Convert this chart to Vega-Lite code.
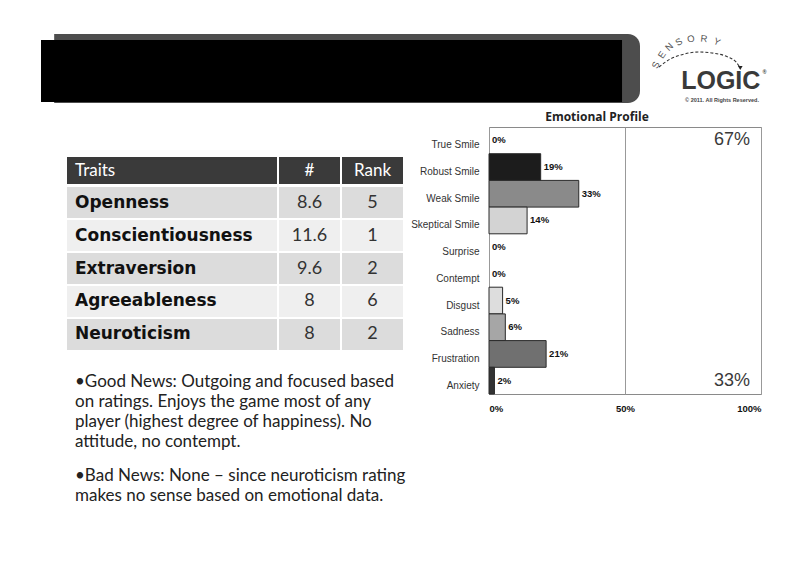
{
  "$schema": "https://vega.github.io/schema/vega-lite/v6.json",
  "padding": {"left": 41, "top": 22, "right": 0, "bottom": 0},
  "background": "white",
  "config": {"view": {"stroke": null}, "font": "Liberation Sans"},
  "datasets": {
    "emotions": [
      {"emotion": "True Smile", "share": 0},
      {"emotion": "Robust Smile", "share": 0.19},
      {"emotion": "Weak Smile", "share": 0.33},
      {"emotion": "Skeptical Smile", "share": 0.14},
      {"emotion": "Surprise", "share": 0},
      {"emotion": "Contempt", "share": 0},
      {"emotion": "Disgust", "share": 0.05},
      {"emotion": "Sadness", "share": 0.06},
      {"emotion": "Frustration", "share": 0.21},
      {"emotion": "Anxiety", "share": 0.02}
    ],
    "totals": [
      {"emotion": "True Smile", "group": "Smiles", "total": 0.67},
      {"emotion": "Anxiety", "group": "Other", "total": 0.33}
    ],
    "traits": [
      {"trait": "Openness", "score": 8.6, "rank": 5},
      {"trait": "Conscientiousness", "score": 11.6, "rank": 1},
      {"trait": "Extraversion", "score": 9.6, "rank": 2},
      {"trait": "Agreeableness", "score": 8, "rank": 6},
      {"trait": "Neuroticism", "score": 8, "rank": 2}
    ],
    "notes": [
      {"para": "good", "text": ["•Good News: Outgoing and focused based", "on ratings. Enjoys the game most of any", "player (highest degree of happiness). No", "attitude, no contempt."]},
      {"para": "bad", "text": ["•Bad News: None – since neuroticism rating", "makes no sense based on emotional data."]}
    ],
    "logo": [
      {"kind": "letter", "t": "S", "x": 3.2, "y": 50},
      {"kind": "letter", "t": "E", "x": 8, "y": 62},
      {"kind": "letter", "t": "N", "x": 13.8, "y": 71.4},
      {"kind": "letter", "t": "S", "x": 21.6, "y": 77.4},
      {"kind": "letter", "t": "O", "x": 31.2, "y": 81},
      {"kind": "letter", "t": "R", "x": 41.6, "y": 81},
      {"kind": "letter", "t": "Y", "x": 52, "y": 77.4}
    ],
    "arc": [
      {"x": 5.6, "y": 47.6},
      {"x": 14.4, "y": 57},
      {"x": 25.6, "y": 63},
      {"x": 37.6, "y": 65.5},
      {"x": 49.6, "y": 64},
      {"x": 60.8, "y": 59.5},
      {"x": 67.2, "y": 53.6},
      {"x": 70.6, "y": 46.5}
    ]
  },
  "vconcat": [
    {
      "hconcat": [
        {
          "vconcat": [
            {"width": 599, "height": 11, "data": {"values": [{}]}, "mark": "text", "encoding": {"text": {"value": ""}}},
            {
              "width": 599, "height": 69,
              "data": {"values": [{}]},
              "layer": [
                {
                  "mark": {"type": "rect", "color": "#4d4d4d", "cornerRadiusTopRight": 12, "cornerRadiusBottomRight": 12},
                  "encoding": {
                    "x": {"datum": 0.022, "type": "quantitative", "scale": {"domain": [0, 1]}, "axis": null},
                    "x2": {"datum": 1},
                    "y": {"datum": 0, "type": "quantitative", "scale": {"domain": [0, 1]}, "axis": null},
                    "y2": {"datum": 1}
                  }
                },
                {
                  "mark": {"type": "rect", "color": "#000000"},
                  "encoding": {
                    "x": {"datum": 0, "type": "quantitative"},
                    "x2": {"datum": 0.97},
                    "y": {"datum": 0.015, "type": "quantitative"},
                    "y2": {"datum": 0.913}
                  }
                }
              ]
            }
          ],
          "spacing": 0
        },
        {
          "width": 125, "height": 84,
          "layer": [
            {
              "data": {"name": "arc"},
              "mark": {"type": "line", "interpolate": "monotone", "strokeDash": [3, 2], "color": "#333", "strokeWidth": 1.1},
              "encoding": {
                "x": {"field": "x", "type": "quantitative", "scale": {"domain": [0, 100]}, "axis": null},
                "y": {"field": "y", "type": "quantitative", "scale": {"domain": [0, 100]}, "axis": null}
              }
            },
            {
              "data": {"name": "arc"},
              "transform": [{"filter": "datum.x > 70"}],
              "mark": {"type": "point", "shape": "triangle-down", "filled": true, "size": 22, "color": "#222", "opacity": 1},
              "encoding": {
                "x": {"field": "x", "type": "quantitative"},
                "y": {"field": "y", "type": "quantitative"}
              }
            },
            {
              "data": {"name": "logo"},
              "mark": {"type": "text", "fontSize": 9.5, "color": "#555", "font": "Liberation Sans"},
              "encoding": {
                "x": {"field": "x", "type": "quantitative"},
                "y": {"field": "y", "type": "quantitative"},
                "angle": {"field": "x", "type": "quantitative", "scale": {"domain": [3, 52], "range": [-65, 25]}, "legend": null},
                "text": {"field": "t"}
              }
            },
            {
              "data": {"values": [{"t": "LOGIC", "x": 55, "y": 21}]},
              "mark": {"type": "text", "fontSize": 25, "fontWeight": "bold", "color": "#3a3a3a", "baseline": "alphabetic", "font": "Liberation Sans"},
              "encoding": {
                "x": {"field": "x", "type": "quantitative"},
                "y": {"field": "y", "type": "quantitative"},
                "text": {"field": "t"}
              }
            },
            {
              "data": {"values": [{"t": "®", "x": 90, "y": 42}, {"t": "© 2011.  All Rights Reserved.", "x": 56, "y": 8}]},
              "mark": {"type": "text", "fontSize": 5.5, "fontWeight": "bold", "color": "#444", "font": "Liberation Sans"},
              "encoding": {
                "x": {"field": "x", "type": "quantitative"},
                "y": {"field": "y", "type": "quantitative"},
                "text": {"field": "t"}
              }
            }
          ]
        }
      ],
      "spacing": 10
    },
    {
      "hconcat": [
        {"width": 26, "height": 1, "data": {"values": [{}]}, "mark": "text", "encoding": {"text": {"value": ""}}},
        {
          "vconcat": [
            {"width": 343, "height": 30, "data": {"values": [{}]}, "mark": "text", "encoding": {"text": {"value": ""}}},
            {
              "concat": [
                {
                  "width": 210, "height": 27, "view": {"fill": "#3a3a3a"},
                  "data": {"values": [{"h": "Traits"}]},
                  "mark": {"type": "text", "align": "left", "dx": 8, "fontSize": 17, "color": "white", "font": "Lato"},
                  "encoding": {
                    "x": {"datum": 0, "type": "quantitative", "scale": {"domain": [0, 1]}, "axis": null},
                    "text": {"field": "h"}
                  }
                },
                {
                  "width": 61, "height": 27, "view": {"fill": "#3a3a3a"},
                  "data": {"values": [{"h": "#"}]},
                  "mark": {"type": "text", "fontSize": 17, "color": "white", "font": "Lato"},
                  "encoding": {"text": {"field": "h"}}
                },
                {
                  "width": 61, "height": 27, "view": {"fill": "#3a3a3a"},
                  "data": {"values": [{"h": "Rank"}]},
                  "mark": {"type": "text", "fontSize": 17, "color": "white", "font": "Lato"},
                  "encoding": {"text": {"field": "h"}}
                },
                {
                  "width": 210, "height": 163,
                  "data": {"name": "traits"},
                  "encoding": {
                    "y": {"field": "trait", "type": "nominal", "sort": null, "scale": {"paddingInner": 0.06, "paddingOuter": 0}, "axis": null}
                  },
                  "layer": [
                    {
                      "mark": {"type": "rect"},
                      "encoding": {
                        "color": {"condition": {"test": "datum.trait === 'Conscientiousness' || datum.trait === 'Agreeableness'", "value": "#efefef"}, "value": "#dcdcdc"}
                      }
                    },
                    {
                      "mark": {"type": "text", "align": "left", "dx": 8, "fontSize": 17, "fontWeight": "bold", "color": "#111", "font": "DejaVu Sans"},
                      "encoding": {
                        "x": {"datum": 0, "type": "quantitative", "scale": {"domain": [0, 1]}, "axis": null},
                        "text": {"field": "trait"}
                      }
                    }
                  ]
                },
                {
                  "width": 61, "height": 163,
                  "data": {"name": "traits"},
                  "encoding": {
                    "y": {"field": "trait", "type": "nominal", "sort": null, "scale": {"paddingInner": 0.06, "paddingOuter": 0}, "axis": null}
                  },
                  "layer": [
                    {
                      "mark": {"type": "rect"},
                      "encoding": {
                        "color": {"condition": {"test": "datum.trait === 'Conscientiousness' || datum.trait === 'Agreeableness'", "value": "#efefef"}, "value": "#dcdcdc"}
                      }
                    },
                    {
                      "mark": {"type": "text", "fontSize": 18, "color": "#333", "font": "Lato"},
                      "encoding": {"text": {"field": "score", "type": "quantitative"}}
                    }
                  ]
                },
                {
                  "width": 61, "height": 163,
                  "data": {"name": "traits"},
                  "encoding": {
                    "y": {"field": "trait", "type": "nominal", "sort": null, "scale": {"paddingInner": 0.06, "paddingOuter": 0}, "axis": null}
                  },
                  "layer": [
                    {
                      "mark": {"type": "rect"},
                      "encoding": {
                        "color": {"condition": {"test": "datum.trait === 'Conscientiousness' || datum.trait === 'Agreeableness'", "value": "#efefef"}, "value": "#dcdcdc"}
                      }
                    },
                    {
                      "mark": {"type": "text", "fontSize": 18, "color": "#333", "font": "Lato"},
                      "encoding": {"text": {"field": "rank", "type": "quantitative"}}
                    }
                  ]
                }
              ],
              "columns": 3,
              "align": "each",
              "spacing": {"row": 3, "column": 2}
            },
            {"width": 343, "height": 23, "data": {"values": [{}]}, "mark": "text", "encoding": {"text": {"value": ""}}},
            {
              "width": 343, "height": 94,
              "data": {"name": "notes"},
              "mark": {"type": "text", "align": "left", "baseline": "top", "dx": 8, "fontSize": 17, "lineHeight": 20, "color": "#222", "font": "Lato"},
              "encoding": {
                "x": {"datum": 0, "type": "quantitative", "scale": {"domain": [0, 1]}, "axis": null},
                "y": {"field": "para", "type": "ordinal", "sort": null, "scale": {"type": "point", "padding": 0}, "axis": null},
                "text": {"field": "text"}
              }
            }
          ],
          "spacing": 0
        },
        {
          "width": 272, "height": 267,
          "title": {"text": "Emotional Profile", "fontSize": 12, "font": "Open Sans", "fontWeight": "bold", "color": "#222", "offset": 3, "dx": -28},
          "view": {"stroke": "#8a8a8a", "strokeWidth": 1},
          "encoding": {
            "y": {"field": "emotion", "type": "nominal", "sort": null,
              "scale": {"domain": ["True Smile", "Robust Smile", "Weak Smile", "Skeptical Smile", "Surprise", "Contempt", "Disgust", "Sadness", "Frustration", "Anxiety"], "paddingInner": 0, "paddingOuter": 0},
              "axis": {"title": null, "ticks": false, "domain": false, "labelPadding": 10, "labelFontSize": 10, "labelColor": "#333", "labelFont": "Liberation Sans", "minExtent": 77, "maxExtent": 77, "labelOffset": 5}}
          },
          "layer": [
            {
              "data": {"name": "emotions"},
              "transform": [{"filter": "datum.share > 0"}],
              "mark": {"type": "bar", "stroke": "#2a2a2a", "strokeWidth": 1},
              "encoding": {
                "x": {"field": "share", "type": "quantitative", "scale": {"domain": [0, 1]},
                  "axis": {"values": [0, 0.5, 1], "format": ".0%", "title": null, "ticks": false, "domain": false, "grid": true, "gridColor": "#999", "labelFont": "Liberation Sans", "labelFontWeight": "bold", "labelFontSize": 9.5, "labelPadding": 9, "labelColor": "#111"}},
                "color": {"field": "emotion", "type": "nominal", "legend": null,
                  "scale": {"domain": ["True Smile", "Robust Smile", "Weak Smile", "Skeptical Smile", "Surprise", "Contempt", "Disgust", "Sadness", "Frustration", "Anxiety"],
                    "range": ["#ffffff", "#1c1c1c", "#8a8a8a", "#d3d3d3", "#ffffff", "#ffffff", "#dddddd", "#a6a6a6", "#707070", "#333333"]}}
              }
            },
            {
              "data": {"name": "emotions"},
              "mark": {"type": "text", "align": "left", "dx": 3, "fontSize": 9.5, "fontWeight": "bold", "color": "#111", "font": "Liberation Sans"},
              "encoding": {
                "x": {"field": "share", "type": "quantitative"},
                "text": {"field": "share", "type": "quantitative", "format": ".0%"}
              }
            },
            {
              "data": {"name": "totals"},
              "mark": {"type": "text", "align": "right", "fontSize": 18, "color": "#3a3a3a", "font": "Liberation Sans"},
              "encoding": {
                "x": {"datum": 0.96, "type": "quantitative"},
                "text": {"field": "total", "type": "quantitative", "format": ".0%"}
              }
            }
          ]
        }
      ],
      "spacing": 0
    }
  ],
  "spacing": 3
}
